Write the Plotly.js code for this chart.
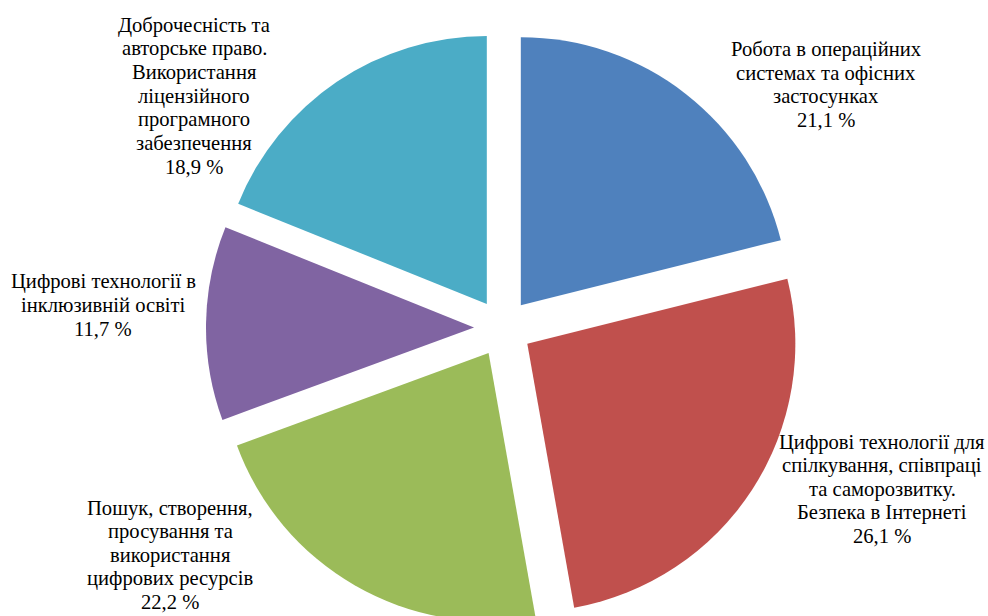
<!DOCTYPE html>
<html>
<head>
<meta charset="utf-8">
<script src="https://cdn.plot.ly/plotly-3.0.1.min.js"></script>
<style>
html, body { margin: 0; padding: 0; overflow: hidden; background: #fff; }
#chart { width: 988px; height: 660px; }
</style>
</head>
<body>
<div id="chart"></div>
<script>
// Data
const categories = [
  "Робота в операційних<br>системах та офісних<br>застосунках",
  "Цифрові технології для<br>спілкування, співпраці<br>та саморозвитку.<br>Безпека в Інтернеті",
  "Пошук, створення,<br>просування та<br>використання<br>цифрових ресурсів",
  "Цифрові технології в<br>інклюзивній освіті",
  "Доброчесність та<br>авторське право.<br>Використання<br>ліцензійного<br>програмного<br>забезпечення"
];
const values = [21.1, 26.1, 22.2, 11.7, 18.9];
const colors = ["#4F81BD", "#C0504D", "#9BBB59", "#8064A2", "#4BACC6"];

// Layout geometry (pixels)
const W = 988, H = 660;
const M = {l: 18, r: 0, t: 31, b: 35};
const labelPos = [
  [826, 85],
  [882, 489],
  [170, 555],
  [103, 305],
  [194, 96]
];
const LINE = 23.5;
function px2paper(x, y) {
  const pw = W - M.l - M.r, ph = H - M.t - M.b;
  return [(x - M.l) / pw, 1 - (y - M.t) / ph];
}

const fmt = v => v.toFixed(1).replace('.', ',') + ' %';

const annotations = [];
categories.forEach((c, i) => {
  const lines = c.split('<br>').concat([fmt(values[i])]);
  const n = lines.length;
  lines.forEach((ln, k) => {
    const p = px2paper(labelPos[i][0], labelPos[i][1] + (k - (n - 1) / 2) * LINE);
    annotations.push({
      xref: 'paper', yref: 'paper', x: p[0], y: p[1],
      xanchor: 'center', yanchor: 'middle', align: 'center',
      text: ln,
      showarrow: false,
      font: {family: 'Liberation Serif, Times New Roman, serif', size: 20.6, color: '#000'}
    });
  });
});

const trace = {
  type: 'pie',
  values: values,
  labels: categories,
  sort: false,
  direction: 'clockwise',
  rotation: 0,
  pull: values.map(() => 0.108),
  marker: {colors: colors, line: {width: 0}},
  textinfo: 'none',
  hoverinfo: 'none',
  showlegend: false
};

Plotly.newPlot('chart', [trace], {
  width: W, height: H,
  margin: M,
  paper_bgcolor: '#fff',
  showlegend: false,
  annotations: annotations
}, {staticPlot: true, displayModeBar: false});
</script>
</body>
</html>
